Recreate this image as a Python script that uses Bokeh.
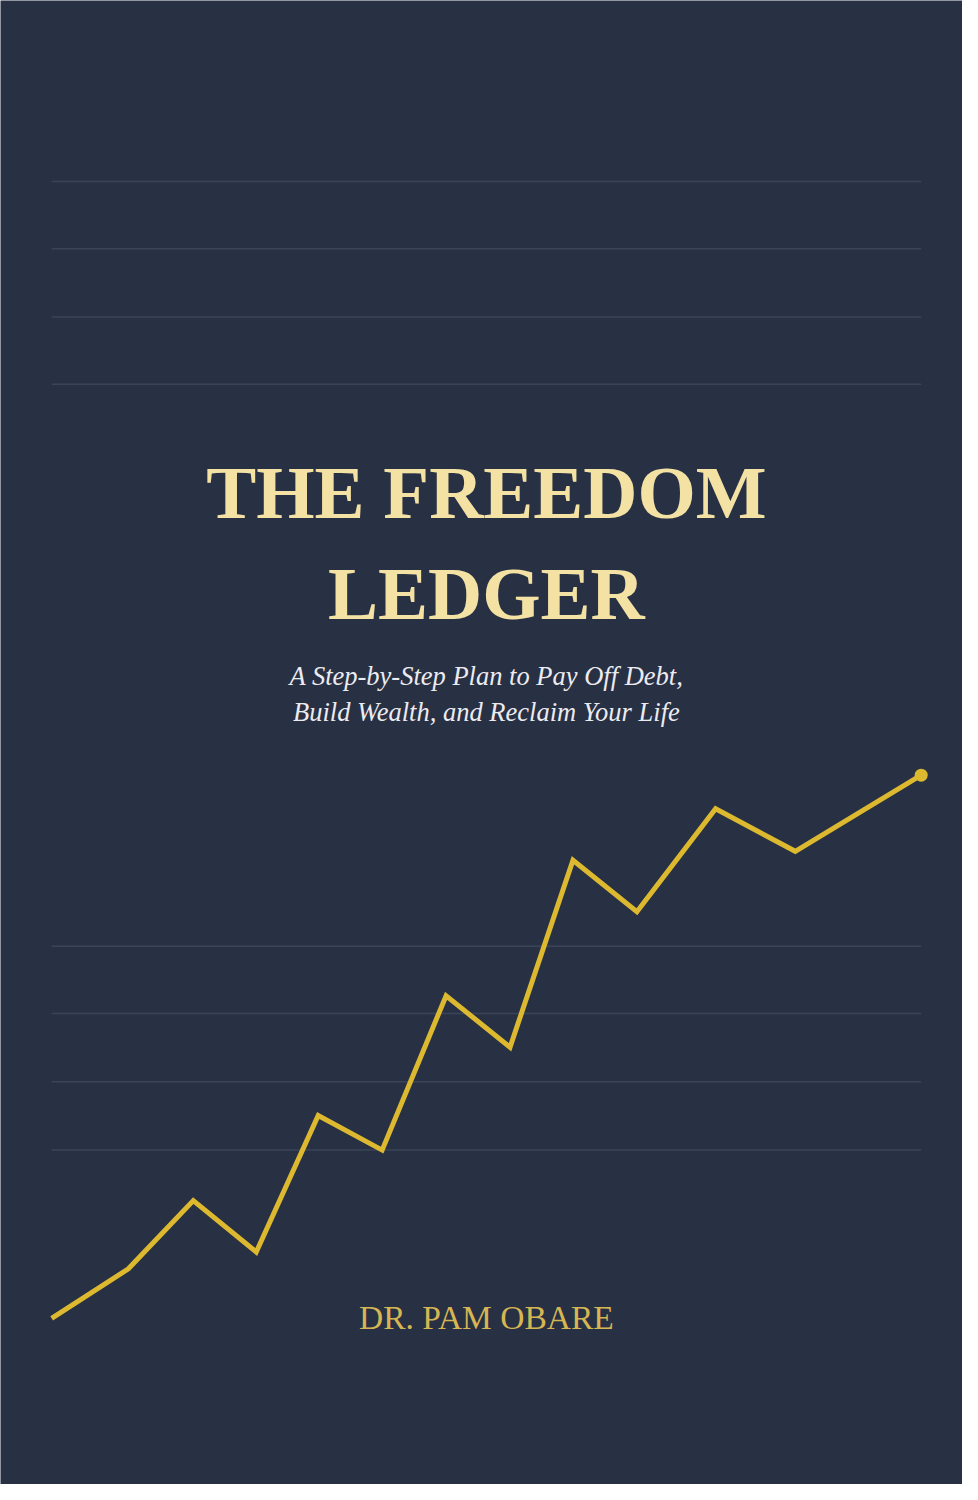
from bokeh.plotting import figure
from bokeh.models import Range1d
from bokeh.core.properties import value
from bokeh.embed import file_html
from bokeh.resources import INLINE

# cover data: x in steps, y in value units
line_x = [5.2, 13.0, 19.6, 26.0, 32.3, 38.8, 45.3, 51.8, 58.2, 64.7, 72.7, 80.8, 93.6]
line_y = [16.8, 21.8, 28.7, 23.5, 37.3, 33.8, 49.4, 44.2, 63.1, 57.9, 68.3, 64.0, 71.7]

# ledger rules
rule_y = [131.7, 124.9, 118.0, 111.2, 54.4, 47.6, 40.7, 33.8]
rule_start = 5.2
rule_end = 93.6

title_lines = ["THE FREEDOM", "LEDGER"]
title_y = [100.3, 90.1]
subtitle_lines = ["A Step-by-Step Plan to Pay Off Debt,", "Build Wealth, and Reclaim Your Life"]
subtitle_y = [81.7, 78.1]
author = "DR. PAM OBARE"
author_y = 16.9
center_x = 49.4

BG = "#283044"
GOLD = "#dcb92f"

p = figure(width=962, height=1484, output_backend="svg", toolbar_location=None,
           x_range=Range1d(0, 97.8), y_range=Range1d(0, 150),
           min_border=0, background_fill_color=BG, border_fill_color=BG)
p.axis.visible = False
p.grid.visible = False
p.outline_line_color = None

# horizontal ledger lines
p.segment(x0=[rule_start] * len(rule_y), x1=[rule_end] * len(rule_y), y0=rule_y, y1=rule_y,
          line_color="#3a4459", line_width=1.5)

# growth line with end dot
p.line(line_x, line_y, line_color=GOLD, line_width=5, line_join="miter")
p.scatter([line_x[-1]], [line_y[-1]], size=13, fill_color=GOLD, line_color=None)

# title
p.text(x=[center_x] * 2, y=title_y, text=title_lines, text_align="center",
       text_baseline="alphabetic", text_font=value("Liberation Serif"),
       text_font_style="bold", text_font_size="75px", text_color="#f4e2a5")

# subtitle
p.text(x=[center_x] * 2, y=subtitle_y, text=subtitle_lines, text_align="center",
       text_baseline="alphabetic", text_font=value("Liberation Serif"),
       text_font_style="italic", text_font_size="26.5px", text_color="#ecebf0")

# author
p.text(x=[center_x], y=[author_y], text=[author], text_align="center",
       text_baseline="alphabetic", text_font=value("Liberation Serif"),
       text_font_size="33.5px", text_color="#d6b653")

open("out.html", "w").write(file_html(p, INLINE))
